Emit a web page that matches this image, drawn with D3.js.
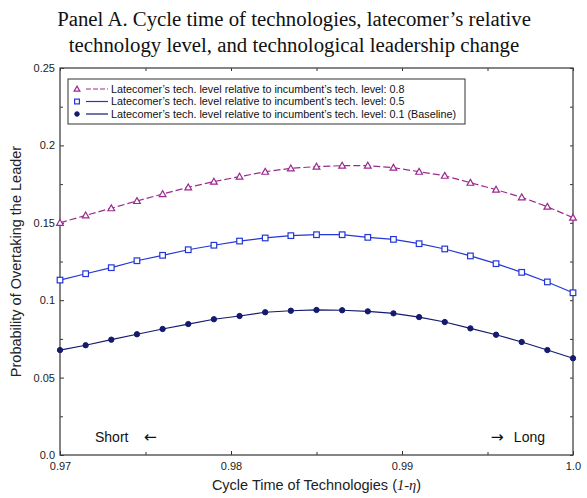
<!DOCTYPE html>
<html>
<head>
<meta charset="utf-8">
<script src="https://cdn.jsdelivr.net/npm/d3@7/dist/d3.min.js"></script>
<style>
  html, body { margin: 0; padding: 0; background: #fff; }
  svg { display: block; }
</style>
</head>
<body>
<svg id="chart" width="587" height="498"></svg>
<script>
// Cycle time (1-eta) sampled across the plotted range
const cycleTime = [0.9700, 0.9715, 0.9730, 0.9745, 0.9760, 0.9775, 0.9790, 0.9805, 0.9820, 0.9835,
                   0.9850, 0.9865, 0.9880, 0.9895, 0.9910, 0.9925, 0.9940, 0.9955, 0.9970, 0.9985, 1.0000];

// Probability of overtaking the leader, one array per relative tech level
const level08 = [0.1500, 0.1548, 0.1594, 0.1641, 0.1686, 0.1729, 0.1766, 0.1798, 0.1830, 0.1852,
                 0.1863, 0.1869, 0.1869, 0.1856, 0.1830, 0.1804, 0.1759, 0.1714, 0.1665, 0.1604, 0.1533];
const level05 = [0.1130, 0.1171, 0.1210, 0.1255, 0.1290, 0.1326, 0.1355, 0.1382, 0.1402, 0.1417,
                 0.1423, 0.1423, 0.1406, 0.1393, 0.1365, 0.1331, 0.1286, 0.1236, 0.1180, 0.1118, 0.1048];
const level01 = [0.0678, 0.0709, 0.0745, 0.0780, 0.0814, 0.0846, 0.0877, 0.0898, 0.0922, 0.0932,
                 0.0937, 0.0935, 0.0928, 0.0915, 0.0891, 0.0859, 0.0818, 0.0777, 0.0730, 0.0678, 0.0625];

const seriesLabels = [
  "Latecomer\u2019s tech. level relative to incumbent\u2019s tech. level: 0.8",
  "Latecomer\u2019s tech. level relative to incumbent\u2019s tech. level: 0.5",
  "Latecomer\u2019s tech. level relative to incumbent\u2019s tech. level: 0.1 (Baseline)"
];

const xTickValues = [0.97, 0.98, 0.99, 1.0];
const xTickLabels = ["0.97", "0.98", "0.99", "1.0"];
const xMinorTicks = [0.975, 0.985, 0.995];
const yTickValues = [0, 0.05, 0.1, 0.15, 0.2, 0.25];
const yTickLabels = ["0.0", "0.05", "0.1", "0.15", "0.2", "0.25"];
const yMinorTicks = [0.025, 0.075, 0.125, 0.175, 0.225];

const series = [
  { values: level08, label: seriesLabels[0], color: "#9c2a8e", marker: "triangle", dash: "7,3" },
  { values: level05, label: seriesLabels[1], color: "#2436d6", marker: "square", dash: null },
  { values: level01, label: seriesLabels[2], color: "#141a6e", marker: "circle", dash: null }
];

const svg = d3.select("#chart");
const plotLeft = 60, plotRight = 573, plotTop = 68, plotBottom = 455;

const x = d3.scaleLinear().domain([0.97, 1.0]).range([plotLeft, plotRight]);
const y = d3.scaleLinear().domain([0, 0.25]).range([plotBottom, plotTop]);

// Title
const title = svg.append("text")
  .attr("x", 294).attr("text-anchor", "middle")
  .style("font-family", "'Liberation Serif', 'DejaVu Serif', serif")
  .style("font-size", "20.8px").attr("fill", "#111");
title.append("tspan").attr("x", 294).attr("y", 26)
  .text("Panel A. Cycle time of technologies, latecomer\u2019s relative");
title.append("tspan").attr("x", 294).attr("y", 52)
  .text("technology level, and technological leadership change");

// Axes with inward ticks on all four sides
const font = "'Liberation Sans', Arial, sans-serif";
function styleAxis(g) {
  g.select(".domain").remove();
  g.selectAll("line").attr("stroke", "#333").attr("stroke-width", 1);
  g.selectAll("text").style("font-family", font).style("font-size", "11px").attr("fill", "#222");
}

svg.append("g").attr("transform", `translate(0,${plotBottom})`)
  .call(d3.axisBottom(x).tickValues(xTickValues).tickSize(-4).tickPadding(7)
    .tickFormat((d, i) => xTickLabels[i]))
  .call(styleAxis);
svg.append("g").attr("transform", `translate(0,${plotBottom})`)
  .call(d3.axisBottom(x).tickValues(xMinorTicks).tickSize(-3).tickFormat(""))
  .call(styleAxis);
svg.append("g").attr("transform", `translate(0,${plotTop})`)
  .call(d3.axisTop(x).tickValues(xTickValues.concat(xMinorTicks)).tickSize(-3).tickFormat(""))
  .call(styleAxis);

svg.append("g").attr("transform", `translate(${plotLeft},0)`)
  .call(d3.axisLeft(y).tickValues(yTickValues).tickSize(-4).tickPadding(5)
    .tickFormat((d, i) => yTickLabels[i]))
  .call(styleAxis);
svg.append("g").attr("transform", `translate(${plotLeft},0)`)
  .call(d3.axisLeft(y).tickValues(yMinorTicks).tickSize(-3).tickFormat(""))
  .call(styleAxis);
svg.append("g").attr("transform", `translate(${plotRight},0)`)
  .call(d3.axisRight(y).tickValues(yTickValues.concat(yMinorTicks)).tickSize(-3).tickFormat(""))
  .call(styleAxis);

// Frame
svg.append("rect")
  .attr("x", plotLeft).attr("y", plotTop).attr("width", plotRight - plotLeft).attr("height", plotBottom - plotTop)
  .attr("fill", "none").attr("stroke", "#444").attr("stroke-width", 1.3);

// Axis titles
const xTitle = svg.append("text")
  .attr("x", (plotLeft + plotRight) / 2).attr("y", 490).attr("text-anchor", "middle")
  .style("font-family", font).style("font-size", "14.5px").attr("fill", "#222");
xTitle.append("tspan").text("Cycle Time of Technologies (");
xTitle.append("tspan").style("font-family", "'Liberation Serif', serif").style("font-style", "italic").text("1-\u03b7");
xTitle.append("tspan").text(")");

svg.append("text")
  .attr("transform", `translate(21,${(plotTop + plotBottom) / 2}) rotate(-90)`)
  .attr("text-anchor", "middle")
  .style("font-family", font).style("font-size", "14.5px").attr("fill", "#222")
  .text("Probability of Overtaking the Leader");

// Direction annotations
const arrowFont = "'DejaVu Sans', sans-serif";
const shortNote = svg.append("text").attr("x", 95).attr("y", 442)
  .style("font-family", font).style("font-size", "14px").attr("fill", "#111");
shortNote.append("tspan").text("Short");
shortNote.append("tspan").attr("x", 144).style("font-family", arrowFont).style("font-size", "15.5px").text("\u2190");
const longNote = svg.append("text").attr("x", 545).attr("y", 442).attr("text-anchor", "end")
  .style("font-family", font).style("font-size", "14px").attr("fill", "#111");
longNote.append("tspan").style("font-family", arrowFont).style("font-size", "15.5px").text("\u2192");
longNote.append("tspan").attr("dx", 10).text("Long");

// Marker drawing
function drawMarker(sel, type, color, size) {
  if (type === "circle") {
    sel.append("circle").attr("r", size * 0.95).attr("fill", color).attr("stroke", color);
  } else if (type === "square") {
    sel.append("rect").attr("x", -size).attr("y", -size).attr("width", size * 2).attr("height", size * 2)
      .attr("fill", "#fff").attr("stroke", color).attr("stroke-width", 1.2);
  } else {
    const s = size * 1.2;
    sel.append("path")
      .attr("d", `M0,${-s} L${s},${s * 0.75} L${-s},${s * 0.75} Z`)
      .attr("fill", "#fff").attr("stroke", color).attr("stroke-width", 1.2);
  }
}

// Lines and markers
const line = d3.line().x(d => x(d[0])).y(d => y(d[1]));
series.forEach(s => {
  const pts = cycleTime.map((c, i) => [c, s.values[i]]);
  svg.append("path").datum(pts)
    .attr("d", line).attr("fill", "none")
    .attr("stroke", s.color).attr("stroke-width", 1.2)
    .attr("stroke-dasharray", s.dash);
  svg.append("g").selectAll("g").data(pts).join("g")
    .attr("transform", d => `translate(${x(d[0])},${y(d[1])})`)
    .each(function () { drawMarker(d3.select(this), s.marker, s.color, 2.8); });
});

// Legend
const legend = svg.append("g").attr("transform", "translate(68,79)");
legend.append("rect").attr("width", 397).attr("height", 45)
  .attr("fill", "#fff").attr("stroke", "#333").attr("stroke-width", 1);
series.forEach((s, i) => {
  const row = legend.append("g").attr("transform", `translate(0,${10 + i * 12.5})`);
  drawMarker(row.append("g").attr("transform", "translate(9,0)"), s.marker, s.color, 2.4);
  row.append("line").attr("x1", 18).attr("x2", 40).attr("y1", 0).attr("y2", 0)
    .attr("stroke", s.color).attr("stroke-width", 1.2).attr("stroke-dasharray", s.dash ? "5,2" : null);
  row.append("text").attr("x", 43).attr("y", 3.8)
    .style("font-family", font).style("font-size", "10.8px").attr("fill", "#111")
    .text(s.label);
});
</script>
</body>
</html>
